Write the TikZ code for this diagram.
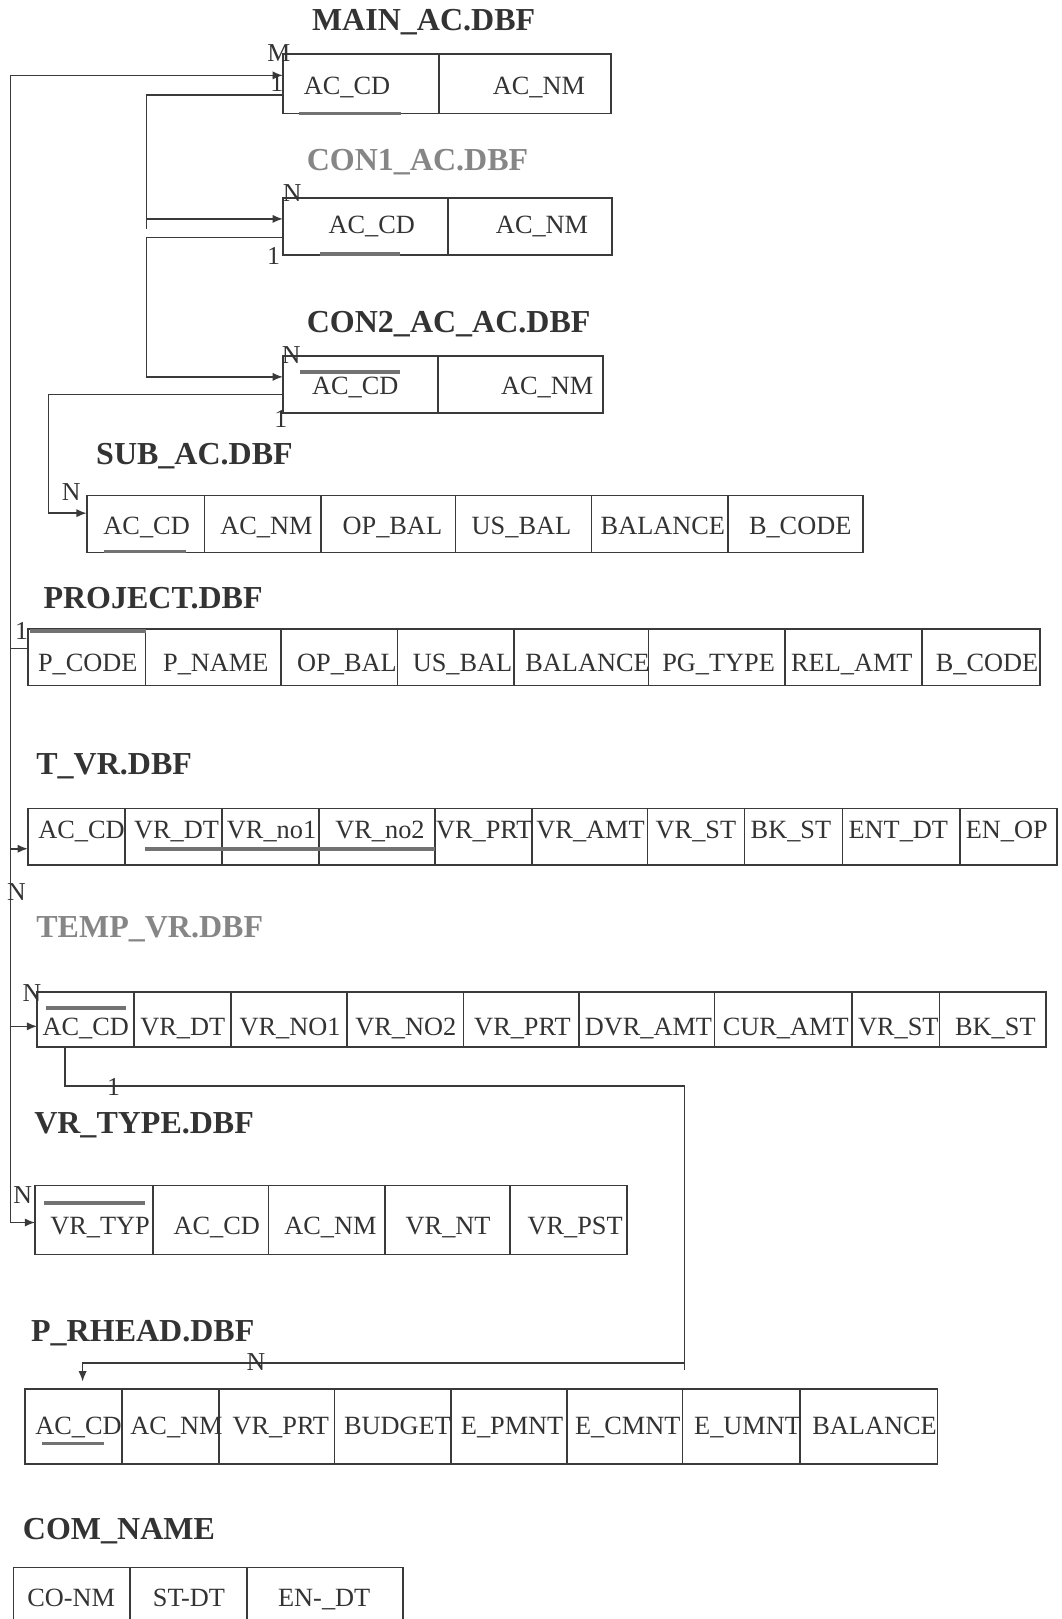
\documentclass[tikz,border=0pt]{standalone}
\usepackage{fontspec}
\setmainfont{Liberation Serif}
\usetikzlibrary{arrows.meta,calc}
\definecolor{inkc}{HTML}{333333}
\definecolor{linec}{HTML}{3A3A3A}
\definecolor{paleTitle}{HTML}{868686}
\definecolor{keyc}{HTML}{727272}

\begin{document}
\begin{tikzpicture}[x=1pt,y=-1pt,
  tbl/.style={draw=linec, line width=1.6pt, rectangle, inner sep=0pt, outer sep=0pt, anchor=north west},
  sep/.style={draw=linec, line width=1.6pt},
  fld/.style={font=\fontsize{25.5}{28}\selectfont, text=inkc, inner sep=0pt, text height=17pt, text depth=0pt},
  ttl/.style={font=\fontsize{31}{34}\selectfont\bfseries, text=inkc, inner sep=0pt, anchor=west, text height=20.5pt, text depth=0pt},
  ttlpale/.style={ttl, text=paleTitle},
  card/.style={font=\fontsize{25}{28}\selectfont, text=inkc, inner sep=0pt, text height=16.5pt, text depth=0pt},
  link/.style={draw=linec, line width=1.5pt},
  arr/.style={link, -{Latex[length=10pt,width=8pt]}},
  keyline/.style={draw=keyc, line width=3.5pt},
]
\fill[white] (0,0) rectangle (1028,1568);
\useasboundingbox (0,0) rectangle (1028,1568);

% ---------------- titles ----------------
\node[ttl]     (t-main)  at (302,19)   {MAIN\_AC.DBF};
\node[ttlpale] (t-con1)  at (297,155)  {CON1\_AC.DBF};
\node[ttl]     (t-con2)  at (297,312)  {CON2\_AC\_AC.DBF};
\node[ttl]     (t-sub)   at (93,440)   {SUB\_AC.DBF};
\node[ttl]     (t-proj)  at (42,579)   {PROJECT.DBF};
\node[ttl]     (t-tvr)   at (35,740)   {T\_VR.DBF};
\node[ttlpale] (t-temp)  at (35,898)   {TEMP\_VR.DBF};
\node[ttl]     (t-vrt)   at (33,1088)  {VR\_TYPE.DBF};
\node[ttl]     (t-prh)   at (30,1289)  {P\_RHEAD.DBF};
\node[ttl]     (t-com)   at (22,1481)  {COM\_NAME};

% ---------------- MAIN_AC ----------------
\node[tbl, minimum width=318pt, minimum height=58pt] (main) at (274,52) {};
\draw[sep] (425,52) -- (425,110);
\foreach \x/\t [count=\i] in {336/AC\_CD, 522/AC\_NM}
  \node[fld] (main-\i) at (\x,83) {\t};
\draw[keyline] (290,110) -- (388,110);

% ---------------- CON1_AC ----------------
\node[tbl, minimum width=319pt, minimum height=55pt] (con1) at (274,192) {};
\draw[sep] (434,192) -- (434,247);
\foreach \x/\t [count=\i] in {360/AC\_CD, 525/AC\_NM}
  \node[fld] (con1-\i) at (\x,218) {\t};
\draw[keyline] (310,246) -- (387,246);

% ---------------- CON2_AC_AC ----------------
\node[tbl, minimum width=310pt, minimum height=55pt] (con2) at (274,345) {};
\draw[sep] (424,345) -- (424,400);
\foreach \x/\t [count=\i] in {344/AC\_CD, 530/AC\_NM}
  \node[fld] (con2-\i) at (\x,374) {\t};
\draw[keyline] (291,360) -- (387,360);

% ---------------- SUB_AC ----------------
\node[tbl, minimum width=752pt, minimum height=55pt] (sub) at (84,480) {};
\foreach \x in {198,311,441,573,705} \draw[sep] (\x,480) -- (\x,535);
\foreach \x/\t [count=\i] in {142/AC\_CD, 258/AC\_NM, 380/OP\_BAL, 505/US\_BAL, 642/BALANCE, 775/B\_CODE}
  \node[fld] (sub-\i) at (\x,509) {\t};
\draw[keyline] (101,534) -- (180,534);

% ---------------- PROJECT ----------------
\node[tbl, minimum width=980pt, minimum height=55pt] (proj) at (27,609) {};
\foreach \x in {141,272,385,498,628,760,893} \draw[sep] (\x,609) -- (\x,664);
\foreach \x/\t [count=\i] in {85/P\_CODE, 209/P\_NAME, 336/OP\_BAL, 448/US\_BAL, 569/BALANCE, 696/PG\_TYPE, 825/REL\_AMT, 956/B\_CODE}
  \node[fld] (proj-\i) at (\x,642) {\t};
\draw[keyline] (29,611) -- (141,611);

% ---------------- T_VR ----------------
\node[tbl, minimum width=997pt, minimum height=55pt] (tvr) at (27,783) {};
\foreach \x in {121,215,309,421,515,627,721,816,930} \draw[sep] (\x,783) -- (\x,838);
\foreach \x/\t [count=\i] in {79/AC\_CD, 171/VR\_DT, 263/VR\_no1, 368/VR\_no2, 469/VR\_PRT, 572/VR\_AMT, 674/VR\_ST, 766/BK\_ST, 870/ENT\_DT, 975/EN\_OP}
  \node[fld] (tvr-\i) at (\x,804) {\t};
\draw[keyline] (140,822) -- (421,822);

% ---------------- TEMP_VR ----------------
\node[tbl, minimum width=977pt, minimum height=53pt] (temp) at (36,961) {};
\foreach \x in {130,224,336,449,561,692,825,910} \draw[sep] (\x,961) -- (\x,1014);
\foreach \x/\t [count=\i] in {83/AC\_CD, 177/VR\_DT, 281/VR\_NO1, 393/VR\_NO2, 506/VR\_PRT, 628/DVR\_AMT, 761/CUR\_AMT, 870/VR\_ST, 964/BK\_ST}
  \node[fld] (temp-\i) at (\x,994) {\t};
\draw[keyline] (45,976) -- (122,976);

% ---------------- VR_TYPE ----------------
\node[tbl, minimum width=573pt, minimum height=67pt] (vrt) at (34,1148) {};
\foreach \x in {148,260,373,494} \draw[sep] (\x,1148) -- (\x,1215);
\foreach \x/\t [count=\i] in {97/VR\_TYP, 210/AC\_CD, 320/AC\_NM, 434/VR\_NT, 557/VR\_PST}
  \node[fld] (vrt-\i) at (\x,1187) {\t};
\draw[keyline] (43,1165) -- (140,1165);

% ---------------- P_RHEAD ----------------
\node[tbl, minimum width=884pt, minimum height=73pt] (prh) at (24,1345) {};
\foreach \x in {118,212,324,437,549,661,775} \draw[sep] (\x,1345) -- (\x,1418);
\foreach \x/\t [count=\i] in {76/AC\_CD, 171/AC\_NM, 272/VR\_PRT, 385/BUDGET, 496/E\_PMNT, 608/E\_CMNT, 724/E\_UMNT, 847/BALANCE}
  \node[fld] (prh-\i) at (\x,1381) {\t};
\draw[keyline] (41,1398) -- (101,1398);

% ---------------- COM_NAME ----------------
\node[tbl, minimum width=377pt, minimum height=80pt] (com) at (13,1518) {};
\foreach \x in {126,239} \draw[sep] (\x,1518) -- (\x,1598);
\foreach \x/\t [count=\i] in {69/CO-NM, 183/ST-DT, 314/EN-\_DT}
  \node[fld] (com-\i) at (\x,1547) {\t};

% ---------------- connection points ----------------
\coordinate (mainIn)  at ([yshift=-21pt]main.north west);
\coordinate (mainOut) at ([yshift=-40pt]main.north west);
\coordinate (con1In)  at ([yshift=-20pt]con1.north west);
\coordinate (con1Out) at ([yshift=-38pt]con1.north west);
\coordinate (con2In)  at ([yshift=-20pt]con2.north west);
\coordinate (con2Out) at ([yshift=-37pt]con2.north west);
\coordinate (subIn)   at ([yshift=-17pt]sub.north west);
\coordinate (projIn)  at ([yshift=-19pt]proj.north west);
\coordinate (tvrIn)   at ([yshift=-39pt]tvr.north west);
\coordinate (tempIn)  at ([yshift=-33pt]temp.north west);
\coordinate (vrtIn)   at ([yshift=-36pt]vrt.north west);
\coordinate (tempKey) at ([xshift=27pt]temp.south west);
\coordinate (prhIn)   at ([xshift=56pt,yshift=7pt]prh.north west);

\coordinate (spineTop) at (10,73);
\coordinate (spineBot) at (10,1184);
\coordinate (busA) at (142,222);
\coordinate (busB) at (47,0);
\coordinate (hop)  at (663,1052);
\coordinate (hopEnd) at (663,1327);
\coordinate (prBend) at (663,1320);

% ---------------- connectors ----------------
% outer spine feeding MAIN_AC, PROJECT, T_VR, TEMP_VR and VR_TYPE
\draw[link] (spineTop) -- (spineBot);
\draw[arr]  (spineTop) -- (mainIn);
\draw[link] (spineTop |- projIn) -- (projIn);
\draw[arr]  (spineTop |- tvrIn) -- (tvrIn);
\draw[arr]  (spineTop |- tempIn) -- (tempIn);
\draw[arr]  (spineBot) -- (vrtIn);

% MAIN_AC -> CON1_AC
\draw[link] (mainOut) -| (busA);
\draw[arr]  (busA |- con1In) -- (con1In);
% CON1_AC -> CON2_AC_AC
\draw[arr]  (con1Out) -| (busA |- con2In) -- (con2In);
% CON2_AC_AC -> SUB_AC
\draw[arr]  (con2Out) -| (busB |- subIn) -- (subIn);
% TEMP_VR -> P_RHEAD
\draw[link] (tempKey) |- (hop) -- (hopEnd);
\draw[arr]  (prBend) -| (prhIn);

% ---------------- cardinalities ----------------
\node[card] (c-m1) at (270,51)   {M};
\node[card] (c-m2) at (268,80)   {1};
\node[card] (c-c1) at (283,187)  {N};
\node[card] (c-c2) at (265,248)  {1};
\node[card] (c-d1) at (282,344)  {N};
\node[card] (c-d2) at (272,406)  {1};
\node[card] (c-s1) at (69,476)   {N};
\node[card] (c-p1) at (21,611)   {1};
\node[card] (c-t1) at (16,864)   {N};
\node[card] (c-e1) at (31,962)   {N};
\node[card] (c-e2) at (110,1053) {1};
\node[card] (c-v1) at (22,1157)  {N};
\node[card] (c-r1) at (248,1319) {N};
\end{tikzpicture}
\end{document}
